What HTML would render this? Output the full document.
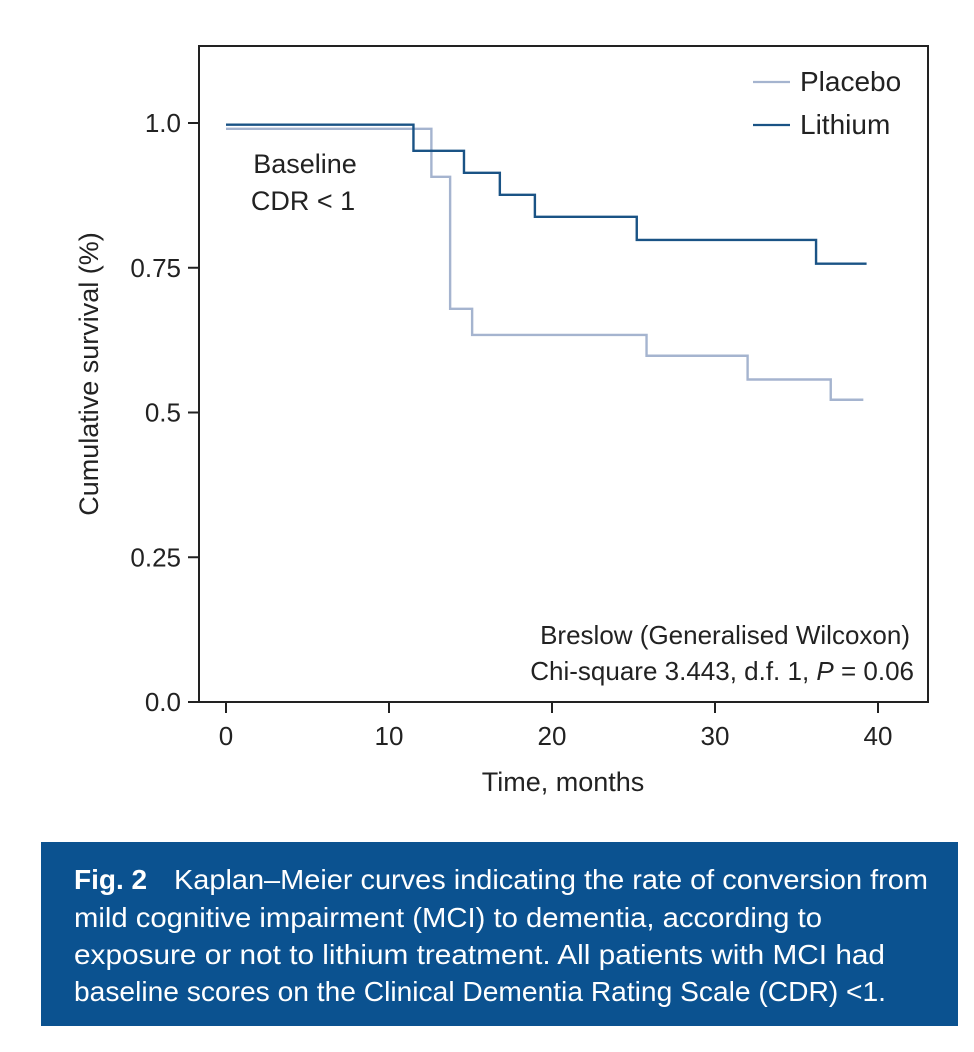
<!DOCTYPE html>
<html><head><meta charset="utf-8"><style>
html,body{margin:0;padding:0;background:#fff;}
svg{display:block;font-family:"Liberation Sans",sans-serif;}
</style></head><body>
<svg id="chart" width="974" height="1052" viewBox="0 0 974 1052">
<rect x="199" y="46" width="729" height="656" fill="none" stroke="#222" stroke-width="2"/>
<g id="axes"></g>
<g id="series"></g>
<text x="0" y="0" transform="translate(98,374) rotate(-90)" text-anchor="middle" font-size="27" fill="#222">Cumulative survival (%)</text>
<text x="563" y="791" text-anchor="middle" font-size="27" fill="#222">Time, months</text>
<g>
<line x1="753" y1="82" x2="790" y2="82" stroke="#a5b4cf" stroke-width="2.2"/>
<text x="800" y="91" font-size="28" fill="#222">Placebo</text>
<line x1="753" y1="125" x2="790" y2="125" stroke="#1a5385" stroke-width="2.2"/>
<text x="800" y="134" font-size="28" fill="#222">Lithium</text>
</g>
<text x="305" y="173" text-anchor="middle" font-size="27" fill="#222">Baseline</text>
<text x="303" y="210" text-anchor="middle" font-size="27" fill="#222">CDR &lt; 1</text>
<text x="910" y="644" text-anchor="end" font-size="26" fill="#222">Breslow (Generalised Wilcoxon)</text>
<text x="914" y="680" text-anchor="end" font-size="26" fill="#222">Chi-square 3.443, d.f. 1, <tspan font-style="italic">P</tspan> = 0.06</text>
<rect x="41" y="842" width="917" height="184" fill="#0b5290"/>
<g font-size="28" fill="#fff">
<text x="74" y="889" font-weight="bold">Fig. 2</text>
<text x="174" y="889" textLength="754" lengthAdjust="spacingAndGlyphs">Kaplan–Meier curves indicating the rate of conversion from</text>
<text x="74" y="927" textLength="748" lengthAdjust="spacingAndGlyphs">mild cognitive impairment (MCI) to dementia, according to</text>
<text x="74" y="964" textLength="811" lengthAdjust="spacingAndGlyphs">exposure or not to lithium treatment. All patients with MCI had</text>
<text x="74" y="1001" textLength="812" lengthAdjust="spacingAndGlyphs">baseline scores on the Clinical Dementia Rating Scale (CDR) &lt;1.</text>
</g>
</svg>
<script>
const xTicks = [0, 10, 20, 30, 40];
const yTicks = [0, 0.25, 0.5, 0.75, 1.0];
const yTickLabels = ["0.0", "0.25", "0.5", "0.75", "1.0"];
const placeboTimes = [0, 12.6, 13.75, 15.1, 25.8, 32.0, 37.1, 39.1];
const placeboSurv = [0.99, 0.907, 0.679, 0.634, 0.598, 0.557, 0.522, 0.522];
const lithiumTimes = [0, 11.5, 14.6, 16.8, 18.95, 25.2, 36.2, 39.3];
const lithiumSurv = [0.997, 0.952, 0.914, 0.876, 0.838, 0.798, 0.757, 0.757];

const NS = "http://www.w3.org/2000/svg";
function xs(v){ return 226 + v * 16.3; }
function ys(v){ return 702 - v * 579; }
const axes = document.getElementById('axes');
const series = document.getElementById('series');
function mk(tag, attrs, parent){
  const e = document.createElementNS(NS, tag);
  for (const k in attrs) e.setAttribute(k, attrs[k]);
  parent.appendChild(e); return e;
}
xTicks.forEach((t)=>{
  const l = mk('line',{x1:xs(t),x2:xs(t),y1:702,y2:713,stroke:'#222','stroke-width':2},axes);
  
  
  const tx = mk('text',{x:xs(t),y:745,'text-anchor':'middle','font-size':26,fill:'#222'},axes);
  tx.textContent = String(t);
  
  
});
yTicks.forEach((t,i)=>{
  const l = mk('line',{x1:188,x2:199,y1:ys(t),y2:ys(t),stroke:'#222','stroke-width':2},axes);
  
  
  const tx = mk('text',{x:181,y:ys(t)+9,'text-anchor':'end','font-size':26,fill:'#222'},axes);
  tx.textContent = yTickLabels[i];
  
  
});
function stepPath(times, surv){
  let d = 'M' + xs(times[0]) + ' ' + ys(surv[0]);
  for (let i = 1; i < times.length; i++){
    d += ' H' + xs(times[i]) + ' V' + ys(surv[i]);
  }
  return d;
}
const pp = mk('path',{d:stepPath(placeboTimes, placeboSurv),fill:'none',stroke:'#a5b4cf','stroke-width':2.4},series);


const lp = mk('path',{d:stepPath(lithiumTimes, lithiumSurv),fill:'none',stroke:'#1a5385','stroke-width':2.4},series);


</script>
</body></html>
